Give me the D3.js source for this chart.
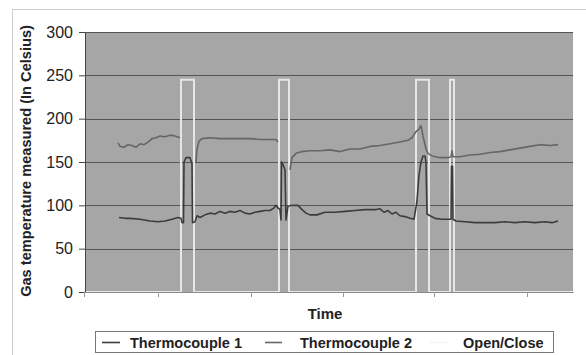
<!DOCTYPE html>
<html><head><meta charset="utf-8">
<script src="https://cdn.jsdelivr.net/npm/d3@7"></script>
<style>body{margin:0;background:#fff;}svg{display:block;font-family:"Liberation Sans",Arial,sans-serif;}</style>
</head><body>
<svg id="c" width="586" height="355"></svg>
<script>
// Time (minutes) and temperatures (°C)
const tc1Time = [17.5,20.5,23,28,33,37,40.5,44,47,48.5,49,49.75,50,51,53,54,54.25,55.5,56.5,58,60.5,63,65.5,68,70.5,73,75.5,78,80.5,83,85.5,88,90.5,93,95,96,97,98,98.5,98.75,99.5,100.5,101,102,104,107,109,111,113,116.5,120.5,125.5,130.5,135.5,140.5,145.5,148,150,152,154,156,158,160.5,163,165,166.5,167.5,168.5,169.5,170.5,171,171.5,173,175.5,179,182,183.5,183.75,184.25,184.5,186,190.5,195.5,200.5,205.5,210.5,215.5,220.5,225.5,230.5,234,237];
const tc1Temp = [86,85,85,84,82,81,82,84,86,85,80,80,150,155,155,148,80,81,88,86,89,91,90,93,91,93,92,94,91,90,92,93,94,94,97,100,97,95,83,150,147,141,83,99,100,100,95,91,89,89,92,92,93,94,95,95,96,92,94,90,92,88,87,85,84,105,135,150,157,157,150,90,88,85,84,84,84,145,145,84,82,81,80,80,80,81,80,81,80,81,80,82];
const tc2Time = [17,18,20,22,24,26,28,30,32,34,36,38,40.5,43,45.5,48,null,56,56.5,57.5,59,63,68,73,78,83,88,93,96,97,null,103,104,106,109,113,118,123,128,133,138,143,148,153,158,162,164,166,167.5,168.5,169.5,171,172,174,178,182,183.5,184,184.5,188,193,198,203,208,213,218,223,228,233,237];
const tc2Temp = [172,168,167,170,169,167,171,170,173,177,178,180,179,181,180,178,null,150,165,174,177,178,177,177,177,177,176,176,176,173,null,141,155,160,162,163,163,164,162,165,165,168,169,171,173,175,178,185,188,192,180,165,160,157,155,155,156,163,156,156,158,159,161,162,164,166,168,170,169,170];
const ocTime = [0,48.5,48.5,55,55,97.5,97.5,102.5,102.5,166,166,172.5,172.5,183,183,185,185,244.5];
const ocState = [0,0,245,245,0,0,245,245,0,0,245,245,0,0,245,245,0,0];
const yTicks = [0,50,100,150,200,250,300];
const xTicks = [0,37,83.5,129.5,175,221.5];
const seriesNames = ["Thermocouple 1","Thermocouple 2","Open/Close"];

const svg = d3.select("#c");
const L=85, R=573, T=32, B=292;
const x = d3.scaleLinear().domain([0,244.5]).range([84,R]);
const y = d3.scaleLinear().domain([0,300]).range([B,T]);

// outer frame
svg.append("rect").attr("x",12.5).attr("y",9.5).attr("width",580).attr("height",350)
  .attr("fill","none").attr("stroke","#9a9a9a").attr("stroke-dasharray","1,1");

// plot area
svg.append("rect").attr("x",L).attr("y",T).attr("width",R-L).attr("height",B-T).attr("fill","#a6a6a6");

// gridlines
svg.append("g").selectAll("line").data(yTicks.filter(d=>d>0)).join("line")
  .attr("x1",L).attr("x2",R).attr("y1",d=>Math.round(y(d))+0.5).attr("y2",d=>Math.round(y(d))+0.5)
  .attr("stroke","#555").attr("stroke-width",1);

const mk = (tt,vv)=>tt.map((t,i)=>[t,vv[i]]);
const line = d3.line().defined(d=>d[0]!==null && d[1]!==null).x(d=>x(d[0])).y(d=>y(d[1]));

svg.append("path").datum(mk(ocTime,ocState)).attr("d",line)
  .attr("fill","none").attr("stroke","#e6e6e6").attr("stroke-width",2);
svg.append("path").datum(mk(tc2Time,tc2Temp)).attr("d",line)
  .attr("fill","none").attr("stroke","#666").attr("stroke-width",1.6).attr("stroke-linejoin","round");
svg.append("path").datum(mk(tc1Time,tc1Temp)).attr("d",line)
  .attr("fill","none").attr("stroke","#3c3c3c").attr("stroke-width",1.6).attr("stroke-linejoin","round");

// axes
const yAxis = svg.append("g").attr("transform",`translate(${L},0)`)
  .call(d3.axisLeft(y).tickValues(yTicks).tickSize(6).tickPadding(6).tickSizeOuter(0));
yAxis.select(".domain").attr("stroke","#444");
yAxis.selectAll(".tick line").attr("stroke","#444");
yAxis.selectAll("text").attr("font-size",16).attr("fill","#222").attr("font-family","Liberation Sans, Arial");

const xAxis = svg.append("g").attr("transform",`translate(0,${B})`)
  .call(d3.axisBottom(x).tickValues(xTicks).tickSize(5).tickFormat("").tickSizeOuter(0));
xAxis.select(".domain").attr("stroke","#8a8a8a");
xAxis.selectAll(".tick line").attr("stroke","#999");

// titles
svg.append("text").attr("transform",`translate(31,161) rotate(-90)`)
  .attr("text-anchor","middle").attr("font-size",14.6).attr("font-weight","bold").attr("fill","#222")
  .text("Gas temperature measured (In Celsius)");
svg.append("text").attr("x",325).attr("y",319).attr("text-anchor","middle")
  .attr("font-size",15).attr("font-weight","bold").attr("fill","#222").text("Time");

// legend
const lg = svg.append("g");
lg.append("rect").attr("x",95.5).attr("y",331.5).attr("width",458).attr("height",21)
  .attr("fill","#fff").attr("stroke","#777");
const items = [{x1:102,x2:120,tx:130,c:"#3c3c3c"},{x1:265,x2:282,tx:300,c:"#666"},{x1:430,x2:447,tx:463,c:"#f4f4f4"}];
items.forEach((it,i)=>{
  lg.append("line").attr("x1",it.x1).attr("x2",it.x2).attr("y1",342.5).attr("y2",342.5)
    .attr("stroke",it.c).attr("stroke-width",1.6);
  lg.append("text").attr("x",it.tx).attr("y",347.5).attr("font-size",14.5).attr("font-weight","bold")
    .attr("fill","#222").text(seriesNames[i]);
});
</script>
</body></html>
